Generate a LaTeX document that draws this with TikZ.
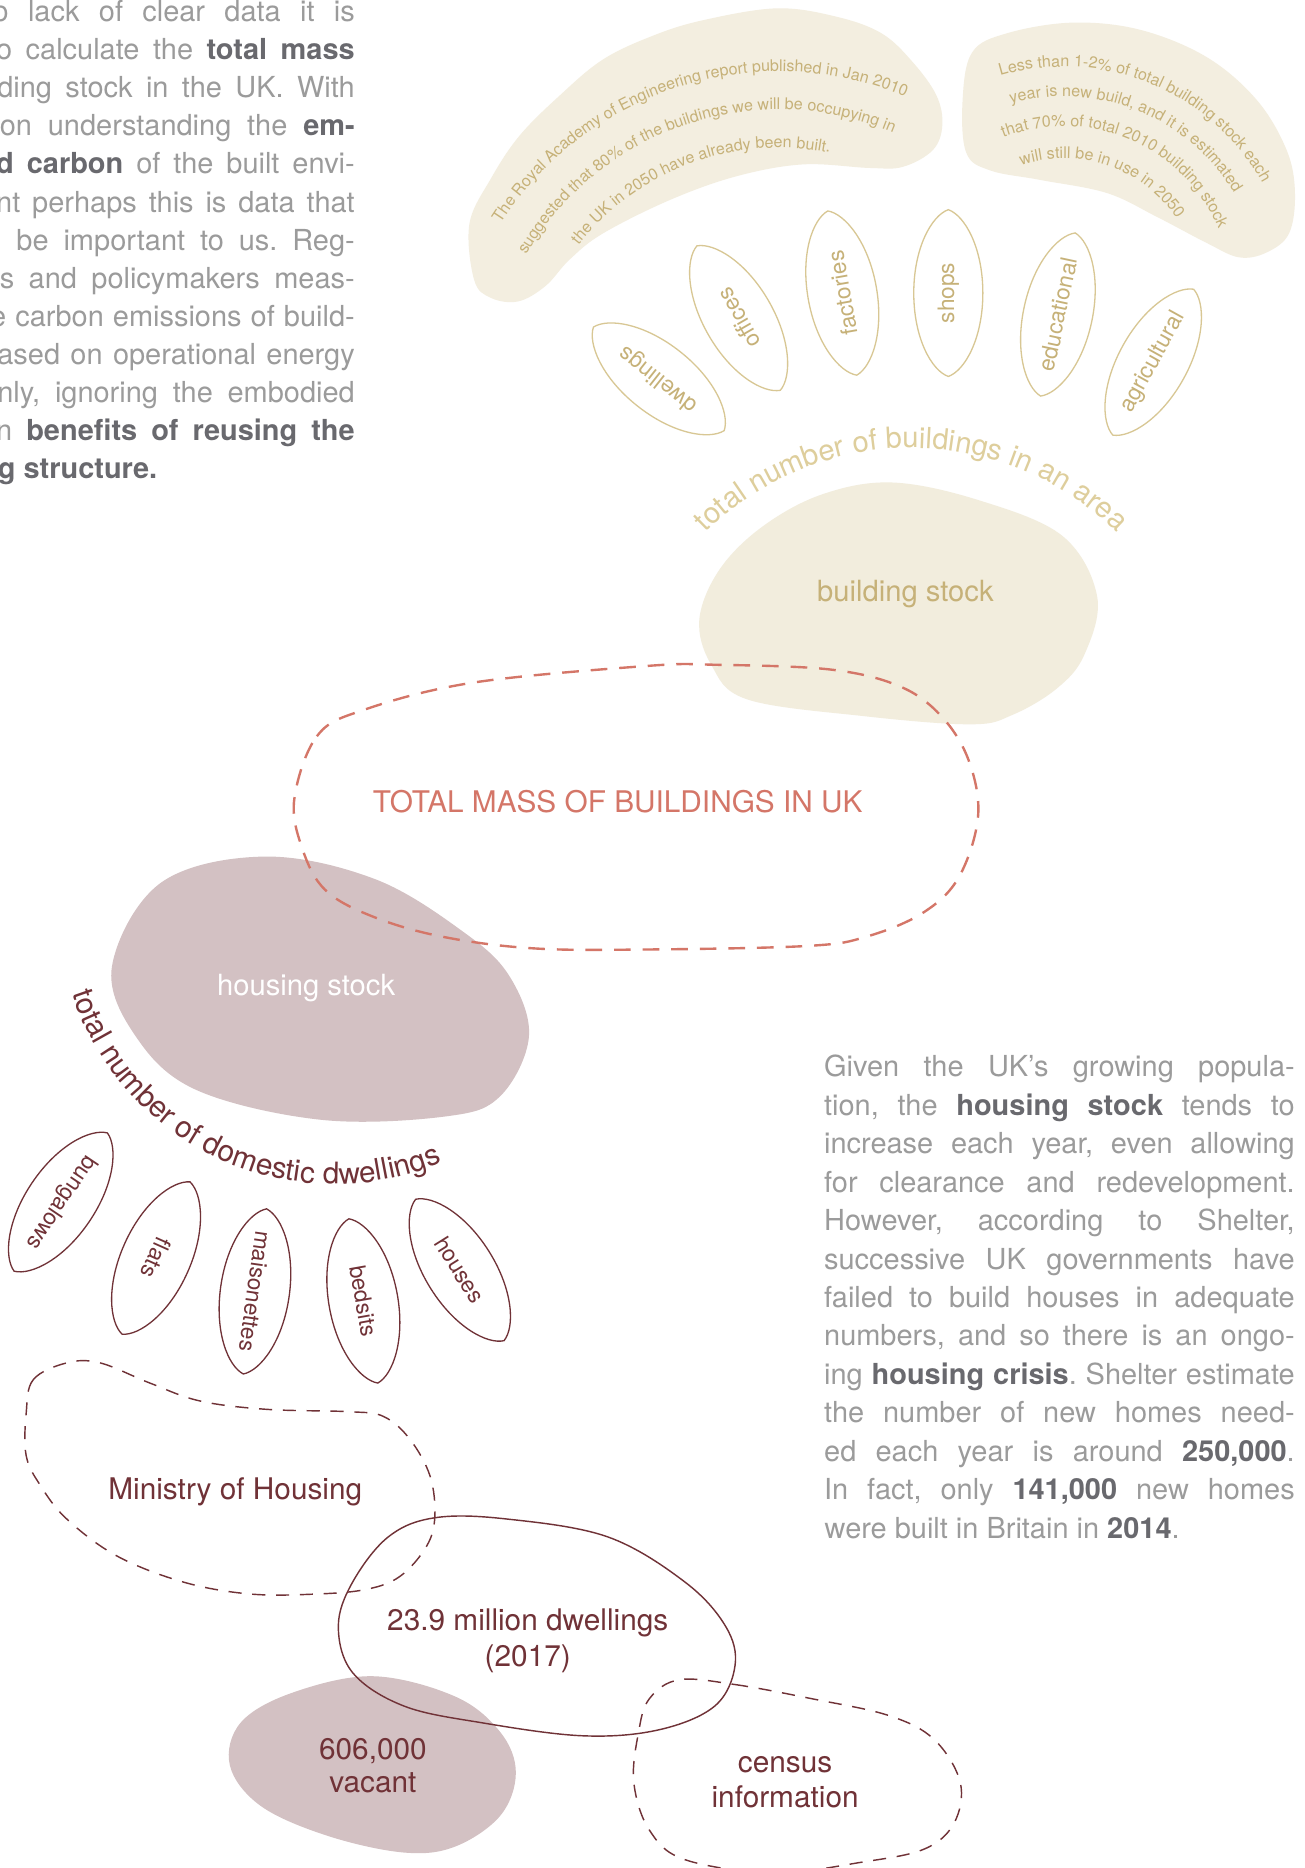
\documentclass[tikz,border=0pt]{standalone}
\usepackage{fontspec}
\setmainfont{TeX Gyre Heros}
\usetikzlibrary{decorations.text}
\frenchspacing

\definecolor{bodygray}{RGB}{155,155,155}
\definecolor{boldgray}{RGB}{105,105,110}
\definecolor{beige}{RGB}{243,238,224}
\definecolor{stockfill}{RGB}{242,237,221}
\definecolor{tantext}{RGB}{198,177,120}
\definecolor{tanline}{RGB}{216,199,148}
\definecolor{tanlight}{RGB}{222,206,156}
\definecolor{massred}{RGB}{212,118,104}
\definecolor{mauve}{RGB}{211,193,195}
\definecolor{maroon}{RGB}{112,50,55}

\newcommand\bodysize{\fontsize{24.3}{32}\selectfont}
\newcommand\lblsize{\fontsize{25}{30}\selectfont}
\newcommand\petalsize{\fontsize{19}{22}\selectfont}
\newcommand\notesize{\fontsize{13.5}{15}\selectfont}
\newcommand\heavy[1]{{\bfseries\color{boldgray}#1}}

\tikzset{
  pics/leaf/.style={code={
    \draw[pic actions] (70,0) .. controls (65,14) and (38,29) .. (0,29)
      .. controls (-38,29) and (-65,14) .. (-70,0)
      .. controls (-65,-14) and (-38,-29) .. (0,-29)
      .. controls (38,-29) and (65,-14) .. (70,0) -- cycle;
  }},
}

\begin{document}
\begin{tikzpicture}[x=1pt,y=-1pt,
  lineR/.style={anchor=base east, inner sep=0pt, text=bodygray, font=\bodysize},
  lineL/.style={anchor=base west, inner sep=0pt, text=bodygray, font=\bodysize},
  petaltan/.style={text=tantext, font=\petalsize, inner sep=0pt},
  petalmaroon/.style={text=maroon, font=\petalsize, inner sep=0pt},
  tanleaf/.style={draw=tanline, line width=1.1pt},
  maroonleaf/.style={draw=maroon, line width=1.1pt},
  lbl/.style={anchor=base, inner sep=0pt, font=\lblsize},
  blob/.style={smooth cycle, tension=0.6},
  arctext/.style={decorate, decoration={text along path, text align=center, text color=#1}},
]
\clip (0,0) rectangle (1095,1568);
\fill[white] (0,0) rectangle (1095,1568);

% ---------- filled blobs ----------
\fill[beige] plot[blob] coordinates {(394,188) (412,150) (436,114) (470,80) (506,50) (548,30)
  (590,17) (652,7) (702,14) (740,28) (766,52) (786,80) (791,105) (783,126) (758,140) (730,141)
  (674,138) (618,148) (562,168) (506,196) (478,218) (458,240) (435,253) (412,250) (398,235)};
\fill[beige] plot[blob] coordinates {(816,44) (845,28) (900,19) (957,25) (1013,48) (1055,84)
  (1080,126) (1087,162) (1082,196) (1063,212) (1040,216) (1013,204) (971,182) (929,162)
  (873,151) (831,143) (811,128) (808,84)};
\fill[stockfill] plot[blob] coordinates {(749,405) (822,420) (892,450) (921,501) (910,550)
  (887,578) (850,600) (815,608) (724,601) (627,587) (597,558) (587,520) (604,478) (640,442) (690,415)};
\fill[mauve] plot[blob] coordinates {(222,719) (315,738) (390,783) (428,820) (444,870) (420,920)
  (375,937) (270,940) (165,915) (114,870) (94,811) (135,741)};
\fill[mauve] plot[blob] coordinates {(313,1407) (382,1424) (420,1454) (433,1488) (420,1524)
  (382,1550) (339,1555) (275,1541) (219,1516) (193,1482) (202,1446) (245,1421)};

% ---------- outlined blobs ----------
\draw[massred, line width=2pt, dash pattern=on 14pt off 10pt] plot[blob] coordinates {(247,671)
  (266,618) (305,596) (397,573) (543,559) (601,558) (697,562) (755,576) (790,601) (813,638)
  (821,685) (805,736) (775,766) (728,786) (678,794) (543,797) (447,796) (370,786) (312,769)
  (273,747) (254,713)};
\draw[maroon, line width=1.2pt, dash pattern=on 11pt off 9pt] plot[blob] coordinates {(22,1186)
  (28,1158) (56,1144) (84,1144) (126,1161) (168,1176) (224,1183) (294,1185) (322,1189) (344,1208)
  (361,1239) (365,1273) (358,1298) (336,1323) (308,1334) (266,1338) (210,1338) (154,1328)
  (98,1306) (56,1275) (34,1247) (22,1222)};
\draw[maroon, line width=1.2pt] plot[blob] coordinates {(365,1274) (425,1275) (510,1290)
  (575,1328) (609,1365) (617,1398) (600,1432) (553,1452) (489,1457) (404,1446) (339,1432)
  (296,1404) (284,1365) (296,1328) (326,1290)};
\draw[maroon, line width=1.2pt, dash pattern=on 11pt off 9pt] plot[blob] coordinates {(570,1410)
  (617,1414) (682,1426) (746,1440) (784,1460) (806,1496) (801,1530) (776,1552) (724,1563)
  (650,1572) (575,1561) (545,1536) (532,1496) (536,1454) (545,1426)};

% ---------- notes curved inside the beige blobs ----------
\path[arctext=tantext, decoration={text={|\notesize|The Royal Academy of Engineering report published in Jan 2010}}]
  plot[domain=0:120, samples=90, variable=\t] ({654+278*cos(192.6+\t)},{338+278*sin(192.6+\t)});
\path[arctext=tantext, decoration={text={|\notesize|suggested that 80{\%} of the buildings we will be occupying in}}]
  plot[domain=0:120, samples=90, variable=\t] ({654+246*cos(191.6+\t)},{338+246*sin(191.6+\t)});
\path[arctext=tantext, decoration={text={|\notesize|the UK in 2050 have already been built.}}]
  plot[domain=0:120, samples=90, variable=\t] ({654+214*cos(189.8+\t)},{338+214*sin(189.8+\t)});

\path[arctext=tantext, decoration={text={|\notesize|Less than 1-2{\%} of total building stock each}}]
  plot[domain=0:120, samples=90, variable=\t] ({893+191*cos(232.3+\t)},{247+191*sin(232.3+\t)});
\path[arctext=tantext, decoration={text={|\notesize|year is new build, and it is estimated}}]
  plot[domain=0:120, samples=90, variable=\t] ({893+166*cos(231.9+\t)},{247+166*sin(231.9+\t)});
\path[arctext=tantext, decoration={text={|\notesize|that 70{\%} of total 2010 building stock}}]
  plot[domain=0:120, samples=90, variable=\t] ({893+141*cos(233+\t)},{247+141*sin(233+\t)});
\path[arctext=tantext, decoration={text={|\notesize|will still be in use in 2050}}]
  plot[domain=0:120, samples=90, variable=\t] ({893+114*cos(229+\t)},{247+114*sin(229+\t)});

% ---------- building types fan ----------
\pic[tanleaf, rotate=141.6] at (553,318) {leaf};
\pic[tanleaf, rotate=120] at (620,267) {leaf};
\pic[tanleaf, rotate=100] at (707,246) {leaf};
\pic[tanleaf, rotate=90] at (796,246) {leaf};
\pic[tanleaf, rotate=78] at (888,264) {leaf};
\pic[tanleaf, rotate=61] at (968,304) {leaf};
\node[petaltan, rotate=141.6] (pdwell) at (553,318) {dwellings};
\node[petaltan, rotate=120] (poffice) at (620,267) {offices};
\node[petaltan, rotate=100] (pfactory) at (707,246) {factories};
\node[petaltan, rotate=90] (pshop) at (796,246) {shops};
\node[petaltan, rotate=78] (pedu) at (888,264) {educational};
\node[petaltan, rotate=61] (pagri) at (968,304) {agricultural};

\path[arctext=tanlight, decoration={text={|\fontsize{24.5}{28}\selectfont|total number of buildings in an area}}]
  plot[domain=0:120, samples=120, variable=\t] ({765+245*cos(210+\t)},{621+245*sin(210+\t)});

% ---------- dwelling types fan ----------
\pic[maroonleaf, rotate=236] at (51,1009) {leaf};
\pic[maroonleaf, rotate=246] at (131,1056) {leaf};
\pic[maroonleaf, rotate=262] at (214,1084) {leaf};
\pic[maroonleaf, rotate=280] at (305,1092) {leaf};
\pic[maroonleaf, rotate=302] at (386,1066) {leaf};
\node[petalmaroon, rotate=236] (pbung) at (51,1009) {bungalows};
\node[petalmaroon, rotate=246] (pflat) at (131,1056) {flats};
\node[petalmaroon, rotate=262] (pmais) at (214,1084) {maisonettes};
\node[petalmaroon, rotate=280] (pbed) at (305,1092) {bedsits};
\node[petalmaroon, rotate=302] (phouse) at (386,1066) {houses};

\path[arctext=maroon, decoration={text={|\fontsize{25}{28}\selectfont|total number of domestic dwellings}}]
  plot[domain=0:120, samples=120, variable=\t] ({281+232*cos(174.5-\t)},{762+232*sin(174.5-\t)});

% ---------- blob labels ----------
\node[lbl, text=tantext, font=\fontsize{24.5}{28}\selectfont] (stock) at (760,505) {building stock};
\node[lbl, text=massred] (mass) at (518.5,682) {TOTAL MASS OF BUILDINGS IN UK};
\node[lbl, text=white, font=\fontsize{24.5}{28}\selectfont] (housing) at (257,836) {housing stock};
\node[lbl, text=maroon] (ministry) at (197.5,1259) {Ministry of Housing};
\node[lbl, text=maroon] (dwell1) at (443,1369) {23.9 million dwellings};
\node[lbl, text=maroon] (dwell2) at (443,1399) {(2017)};
\node[lbl, text=maroon] (vac1) at (313,1477) {606,000};
\node[lbl, text=maroon] (vac2) at (313,1505) {vacant};
\node[lbl, text=maroon] (cens1) at (659,1488) {census};
\node[lbl, text=maroon] (cens2) at (659,1517) {information};

% ---------- left column of text ----------
\node[lineR] (lt1) at (298,18) {\makebox[304pt][s]{o lack of clear data it is}};
\node[lineR] (lt2) at (298,50) {\makebox[301pt][s]{o calculate the \heavy{total mass}}};
\node[lineR] (lt3) at (298,82) {\makebox[300pt][s]{ding stock in the UK. With}};
\node[lineR] (lt4) at (298,114) {\makebox[298pt][s]{on understanding the \heavy{em-}}};
\node[lineR] (lt5) at (298,146) {\makebox[301pt][s]{\heavy{d carbon} of the built envi-}};
\node[lineR] (lt6) at (298,178) {\makebox[301pt][s]{nt perhaps this is data that}};
\node[lineR] (lt7) at (298,210) {\makebox[284pt][s]{be important to us. Reg-}};
\node[lineR] (lt8) at (298,242) {\makebox[298pt][s]{s and policymakers meas-}};
\node[lineR] (lt9) at (298,274) {\makebox[306pt][s]{e carbon emissions of build-}};
\node[lineR] (lt10) at (298,306) {\makebox[300pt][s]{ased on operational energy}};
\node[lineR] (lt11) at (298,338) {\makebox[300pt][s]{nly, ignoring the embodied}};
\node[lineR] (lt12) at (298,370) {\makebox[301pt][s]{n \heavy{benefits of reusing the}}};
\node[lineL] (lt13) at (-2,402) {\heavy{g structure.}};

% ---------- right column of text ----------
\node[lineR] (rt1) at (1087,904.0) {\makebox[395pt][s]{Given the UK's growing popula-}};
\node[lineR] (rt2) at (1087,936.25) {\makebox[395pt][s]{tion, the \heavy{housing stock} tends to}};
\node[lineR] (rt3) at (1087,968.5) {\makebox[395pt][s]{increase each year, even allowing}};
\node[lineR] (rt4) at (1087,1000.75) {\makebox[395pt][s]{for clearance and redevelopment.}};
\node[lineR] (rt5) at (1087,1033.0) {\makebox[395pt][s]{However, according to Shelter,}};
\node[lineR] (rt6) at (1087,1065.25) {\makebox[395pt][s]{successive UK governments have}};
\node[lineR] (rt7) at (1087,1097.5) {\makebox[395pt][s]{failed to build houses in adequate}};
\node[lineR] (rt8) at (1087,1129.75) {\makebox[395pt][s]{numbers, and so there is an ongo-}};
\node[lineR] (rt9) at (1087,1162.0) {\makebox[395pt][s]{ing \heavy{housing crisis}. Shelter estimate}};
\node[lineR] (rt10) at (1087,1194.25) {\makebox[395pt][s]{the number of new homes need-}};
\node[lineR] (rt11) at (1087,1226.5) {\makebox[395pt][s]{ed each year is around \heavy{250,000}.}};
\node[lineR] (rt12) at (1087,1258.75) {\makebox[395pt][s]{In fact, only \heavy{141,000} new homes}};
\node[lineL] (rt13) at (692,1291.0) {were built in Britain in \heavy{2014}.};
\end{tikzpicture}
\end{document}
